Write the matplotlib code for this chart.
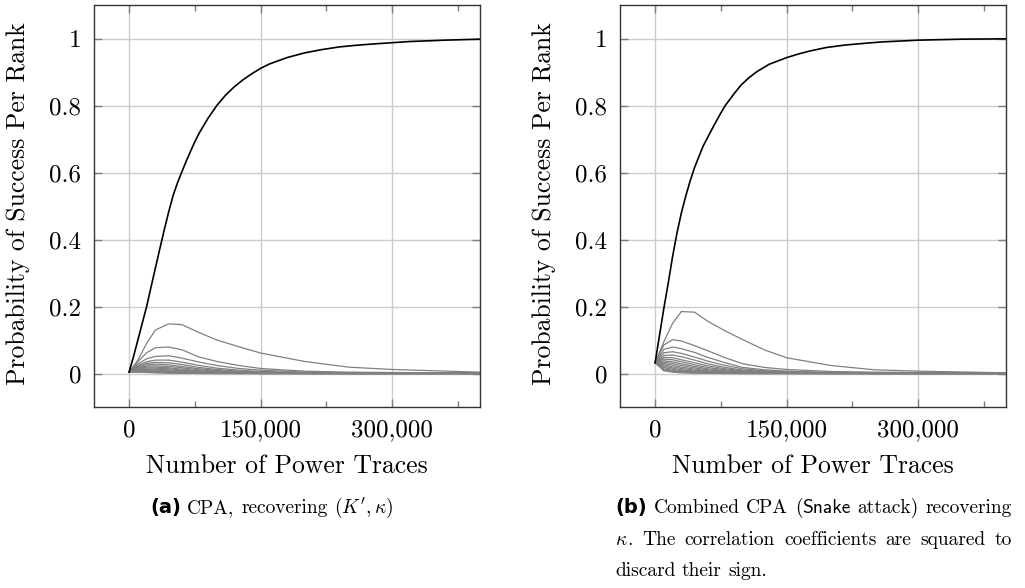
import matplotlib
matplotlib.use("Agg")
import matplotlib.pyplot as plt
from matplotlib.ticker import FixedLocator, FuncFormatter

# ---------------- data ----------------
GX = [0, 10000, 20000, 30000, 45000, 60000, 80000, 100000, 125000, 150000,
      200000, 250000, 300000, 400000]

# (a) CPA - rank 1 (black)
BX_L = [0, 5000, 10000, 15000, 20000, 25000, 30000, 35000, 40000, 45000, 50000,
        55000, 60000, 65000, 70000, 75000, 80000, 90000, 100000, 110000, 120000,
        130000, 140000, 150000, 160000, 180000, 200000, 220000, 240000, 260000,
        280000, 320000, 360000, 400000]
BY_L = [0.004, 0.05, 0.10, 0.15, 0.20, 0.258, 0.315, 0.372, 0.428, 0.481, 0.53,
        0.568, 0.601, 0.633, 0.663, 0.692, 0.718, 0.762, 0.80, 0.831, 0.856,
        0.877, 0.895, 0.911, 0.924, 0.943, 0.957, 0.967, 0.975, 0.980,
        0.984, 0.991, 0.995, 0.998]

# (a) CPA - other ranks (gray)
GL = [
    [0.004, 0.040, 0.090, 0.130, 0.148, 0.146, 0.122, 0.100, 0.080, 0.061, 0.036, 0.019, 0.012, 0.004],
    [0.004, 0.035, 0.062, 0.077, 0.079, 0.071, 0.049, 0.036, 0.024, 0.015, 0.007, 0.004, 0.003, 0.001],
    [0.004, 0.028, 0.044, 0.051, 0.053, 0.046, 0.034, 0.024, 0.015, 0.010, 0.004, 0.002, 0.001, 0.001],
    [0.004, 0.024, 0.035, 0.040, 0.040, 0.034, 0.024, 0.016, 0.010, 0.006, 0.003, 0.001, 0.001, 0.000],
    [0.004, 0.021, 0.030, 0.033, 0.032, 0.027, 0.018, 0.012, 0.007, 0.004, 0.002, 0.001, 0.000, 0.000],
    [0.004, 0.019, 0.026, 0.028, 0.026, 0.021, 0.014, 0.009, 0.005, 0.003, 0.001, 0.000, 0.000, 0.000],
    [0.004, 0.017, 0.022, 0.023, 0.021, 0.017, 0.011, 0.007, 0.004, 0.002, 0.001, 0.000, 0.000, 0.000],
    [0.004, 0.015, 0.019, 0.019, 0.017, 0.013, 0.008, 0.005, 0.003, 0.002, 0.001, 0.000, 0.000, 0.000],
    [0.004, 0.013, 0.016, 0.016, 0.014, 0.010, 0.006, 0.004, 0.002, 0.001, 0.000, 0.000, 0.000, 0.000],
    [0.004, 0.011, 0.013, 0.013, 0.011, 0.008, 0.005, 0.003, 0.002, 0.001, 0.000, 0.000, 0.000, 0.000],
    [0.004, 0.010, 0.011, 0.010, 0.008, 0.006, 0.004, 0.002, 0.001, 0.001, 0.000, 0.000, 0.000, 0.000],
    [0.004, 0.008, 0.009, 0.008, 0.006, 0.004, 0.003, 0.002, 0.001, 0.000, 0.000, 0.000, 0.000, 0.000],
    [0.004, 0.007, 0.007, 0.006, 0.004, 0.003, 0.002, 0.001, 0.001, 0.000, 0.000, 0.000, 0.000, 0.000],
    [0.004, 0.006, 0.005, 0.004, 0.003, 0.002, 0.001, 0.001, 0.000, 0.000, 0.000, 0.000, 0.000, 0.000],
    [0.004, 0.005, 0.004, 0.003, 0.002, 0.001, 0.001, 0.000, 0.000, 0.000, 0.000, 0.000, 0.000, 0.000],
    [0.004, 0.004, 0.003, 0.002, 0.001, 0.001, 0.000, 0.000, 0.000, 0.000, 0.000, 0.000, 0.000, 0.000],
]

# (b) Combined CPA - rank 1 (black)
BX_R = [0, 5000, 10000, 15000, 20000, 25000, 30000, 35000, 40000, 45000, 50000,
        55000, 60000, 67000, 75000, 80000, 90000, 98000, 107000, 116000, 130000,
        150000, 165000, 177000, 195000, 215000, 240000, 260000, 300000, 350000,
        400000]
BY_R = [0.032, 0.113, 0.195, 0.27, 0.35, 0.42, 0.48, 0.53, 0.575, 0.615, 0.648,
        0.68, 0.705, 0.74, 0.778, 0.80, 0.835, 0.861, 0.883, 0.901, 0.923,
        0.943, 0.955, 0.963, 0.973, 0.980, 0.986, 0.990, 0.995, 0.998, 0.999]

# (b) Combined CPA - other ranks (gray)
GR = [
    [0.032, 0.095, 0.150, 0.185, 0.183, 0.156, 0.127, 0.101, 0.070, 0.047, 0.024, 0.011, 0.007, 0.002],
    [0.032, 0.085, 0.101, 0.097, 0.083, 0.068, 0.047, 0.029, 0.018, 0.012, 0.006, 0.004, 0.003, 0.001],
    [0.032, 0.072, 0.079, 0.074, 0.063, 0.048, 0.032, 0.018, 0.011, 0.007, 0.003, 0.002, 0.001, 0.001],
    [0.032, 0.062, 0.065, 0.060, 0.049, 0.037, 0.024, 0.014, 0.008, 0.005, 0.002, 0.001, 0.001, 0.000],
    [0.032, 0.054, 0.055, 0.050, 0.040, 0.029, 0.018, 0.010, 0.006, 0.004, 0.002, 0.001, 0.000, 0.000],
    [0.032, 0.048, 0.047, 0.041, 0.032, 0.023, 0.014, 0.008, 0.005, 0.003, 0.001, 0.000, 0.000, 0.000],
    [0.032, 0.043, 0.041, 0.035, 0.026, 0.018, 0.011, 0.006, 0.004, 0.002, 0.001, 0.000, 0.000, 0.000],
    [0.032, 0.038, 0.035, 0.029, 0.021, 0.014, 0.008, 0.005, 0.003, 0.002, 0.001, 0.000, 0.000, 0.000],
    [0.032, 0.034, 0.030, 0.024, 0.017, 0.011, 0.006, 0.004, 0.002, 0.001, 0.000, 0.000, 0.000, 0.000],
    [0.032, 0.030, 0.025, 0.019, 0.013, 0.008, 0.005, 0.003, 0.002, 0.001, 0.000, 0.000, 0.000, 0.000],
    [0.032, 0.026, 0.020, 0.015, 0.010, 0.006, 0.004, 0.002, 0.001, 0.001, 0.000, 0.000, 0.000, 0.000],
    [0.032, 0.022, 0.016, 0.011, 0.007, 0.004, 0.003, 0.002, 0.001, 0.000, 0.000, 0.000, 0.000, 0.000],
    [0.032, 0.018, 0.012, 0.008, 0.005, 0.003, 0.002, 0.001, 0.000, 0.000, 0.000, 0.000, 0.000, 0.000],
    [0.032, 0.014, 0.009, 0.006, 0.004, 0.002, 0.001, 0.000, 0.000, 0.000, 0.000, 0.000, 0.000, 0.000],
    [0.032, 0.011, 0.006, 0.004, 0.002, 0.001, 0.000, 0.000, 0.000, 0.000, 0.000, 0.000, 0.000, 0.000],
    [0.032, 0.008, 0.004, 0.002, 0.001, 0.001, 0.000, 0.000, 0.000, 0.000, 0.000, 0.000, 0.000, 0.000],
]

X_MAJOR = [0, 150000, 300000]
X_MINOR = [75000, 225000, 375000]
Y_TICKS = [0, 0.2, 0.4, 0.6, 0.8, 1.0]
Y_LABELS = ["0", "0.2", "0.4", "0.6", "0.8", "1"]
XLABEL = "Number of Power Traces"
YLABEL = "Probability of Success Per Rank"

# ---------------- style ----------------
plt.rcParams["font.family"] = ["cmr10", "DejaVu Serif"]
plt.rcParams["mathtext.fontset"] = "cm"
plt.rcParams["axes.unicode_minus"] = False
FS = 18.5
TFS = 18.0
CFS = 14.0
W, H = 1025, 588
fig = plt.figure(figsize=(W / 100, H / 100), dpi=100)


def fx(px):
    return px / W


def fy(py):
    return 1 - py / H


def make_axes(left_px, right_px, black_x, black_y, grays):
    ax = fig.add_axes([fx(left_px), fy(407), (right_px - left_px) / W, (407 - 5) / H])
    ax.set_xlim(-40000, 400000)
    ax.set_ylim(-0.1, 1.1)
    ax.xaxis.set_major_locator(FixedLocator(X_MAJOR))
    ax.xaxis.set_minor_locator(FixedLocator(X_MINOR))
    ax.xaxis.set_major_formatter(FuncFormatter(lambda v, p: f"{int(round(v)):,}"))
    ax.set_yticks(Y_TICKS)
    ax.set_yticklabels(Y_LABELS)
    ax.grid(True, which="major", color="#cccccc", lw=1.0)
    ax.set_axisbelow(True)
    ax.tick_params(which="both", direction="in", top=True, right=True,
                   labelsize=TFS, color="#7f7f7f", width=1.0)
    ax.tick_params(axis="x", pad=9)
    ax.tick_params(axis="y", pad=9)
    ax.tick_params(which="major", length=6)
    ax.tick_params(which="minor", length=4)
    for s in ax.spines.values():
        s.set_linewidth(1.0)
        s.set_color("#333333")
    for g in grays:
        ax.plot(GX, g, color="#808080", lw=0.9, solid_joinstyle="round")
    ax.plot(black_x, black_y, color="black", lw=1.2)
    cx = (left_px + right_px) / 2
    fig.text(fx(cx), fy(466), XLABEL, fontsize=FS, ha="center", va="center")
    fig.text(fx(left_px - 76), fy(204), YLABEL, fontsize=FS, ha="center",
             va="center", rotation=90)
    return ax


axL = make_axes(94, 480, BX_L, BY_L, GL)
axR = make_axes(620, 1006, BX_R, BY_R, GR)

# ---------------- captions ----------------
renderer = fig.canvas.get_renderer()
SANS_B = dict(family=["DejaVu Sans"], weight="bold")
SANS = dict(family=["cmss10", "DejaVu Sans"])
SER = dict()


def measure(txt, kw):
    t = fig.text(0, 0, txt, fontsize=CFS, **kw)
    w = t.get_window_extent(renderer=renderer).width
    t.remove()
    return w


def line(x_px, y_px, words, target=None):
    """words: list of words; each word is a list of (text, style) pieces."""
    widths = [sum(measure(t, k) for t, k in w) for w in words]
    space = measure("a b", SER) - measure("ab", SER)
    if target is not None and len(words) > 1:
        gap = (target - sum(widths)) / (len(words) - 1)
    else:
        gap = space
    x = x_px
    for w, wd in zip(words, widths):
        xx = x
        for t, k in w:
            fig.text(fx(xx), fy(y_px), t, fontsize=CFS, ha="left",
                     va="baseline", **k)
            xx += measure(t, k)
        x += wd + gap


line(150, 513, [[("(a)", SANS_B)], [("CPA,", SER)], [("recovering", SER)],
                [(r"$(K', \kappa)$", SER)]])
line(615, 513, [[("(b)", SANS_B)], [("Combined", SER)], [("CPA", SER)],
                [("(", SER), ("Snake", SANS)], [("attack)", SER)],
                [("recovering", SER)]], target=397)
line(615, 545, [[(r"$\kappa$", SER), (".", SER)], [("The", SER)],
                [("correlation", SER)], [("coefficients", SER)], [("are", SER)],
                [("squared", SER)], [("to", SER)]], target=397)
line(615, 576, [[("discard", SER)], [("their", SER)], [("sign.", SER)]])

fig.savefig("out.png", dpi=100)
